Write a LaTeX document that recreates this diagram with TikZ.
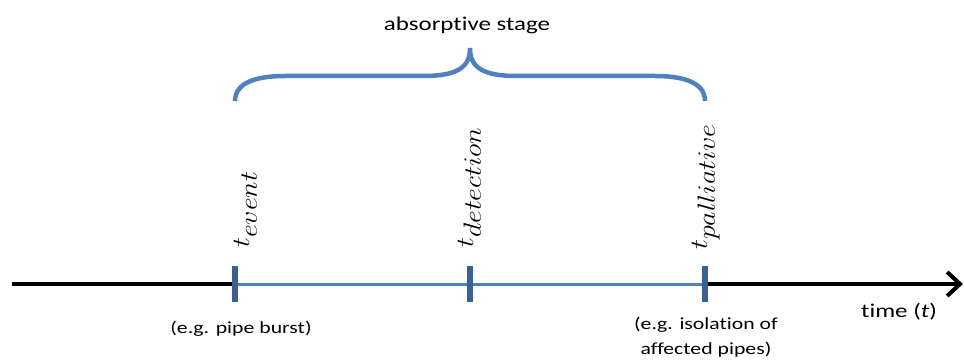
\documentclass[tikz,border=0pt]{standalone}
\usepackage{fontspec}
\setmainfont{Carlito}[Ligatures=NoCommon]
\usetikzlibrary{arrows.meta}
\definecolor{bl}{HTML}{4F81BD}
\definecolor{dk}{HTML}{3B6092}
% horizontal stretch of the reference
\newcommand{\hs}[1]{\scalebox{1.28}[1]{#1}}
\newcommand{\tlab}[1]{\scalebox{1.35}[1.2]{{\fontsize{22}{26}\selectfont$t$}\raisebox{-6.5pt}{\fontsize{20}{24}\selectfont$#1$}}}
\tikzset{
  tick/.style={draw=dk, line width=5.5pt},
  tlabel/.style={rotate=90, anchor=base west, inner sep=0pt},
  note/.style={font=\fontsize{17}{25}\selectfont, align=center, inner sep=0pt},
  big/.style={font=\fontsize{19.5}{24}\selectfont, inner sep=0pt},
}
\begin{document}
\begin{tikzpicture}[x=1pt,y=1pt]
\useasboundingbox (0,0) rectangle (964,362);
% axis
\coordinate (start) at (12,78);
\coordinate (end) at (963,78);
\coordinate (e) at (235,78);
\coordinate (d) at (470,78);
\coordinate (p) at (705,78);
\draw[line width=4pt, -{Straight Barb[length=13pt,width=24pt,line width=4pt]}] (p) -- (end);
\draw[line width=4pt] (start) -- (e);
\draw[bl, line width=3pt] (e) -- (p);
\draw[tick] ([yshift=-18pt]e) -- ([yshift=18pt]e);
\draw[tick] ([yshift=-18pt]d) -- ([yshift=18pt]d);
\draw[tick] ([yshift=-18pt]p) -- ([yshift=18pt]p);
% labels
\node[tlabel] (le) at (249,114) {\tlab{event}};
\node[tlabel] (ld) at (473,114) {\tlab{detection}};
\node[tlabel] (lp) at (707,112) {\tlab{palliative}};
\node[note] (n1) at (241,33) {\hs{(e.g. pipe burst)}};
\node[note] (n2) at (706,25) {\hs{(e.g. isolation of}\\\hs{affected pipes)}};
\node[big] (time) at (899,50) {\hs{time (\textit{t})}};
% brace
\draw[bl, line width=4.5pt, line cap=butt]
  (235,261) .. controls (235,281) and (260,286) .. (285,286) -- (423,286)
  .. controls (458,286) and (470,295) .. (470,314)
  .. controls (470,295) and (482,286) .. (517,286) -- (655,286)
  .. controls (680,286) and (705,281) .. (705,261);
\node[big] (abs) at (467,337) {\hs{absorptive stage}};
\end{tikzpicture}
\end{document}
